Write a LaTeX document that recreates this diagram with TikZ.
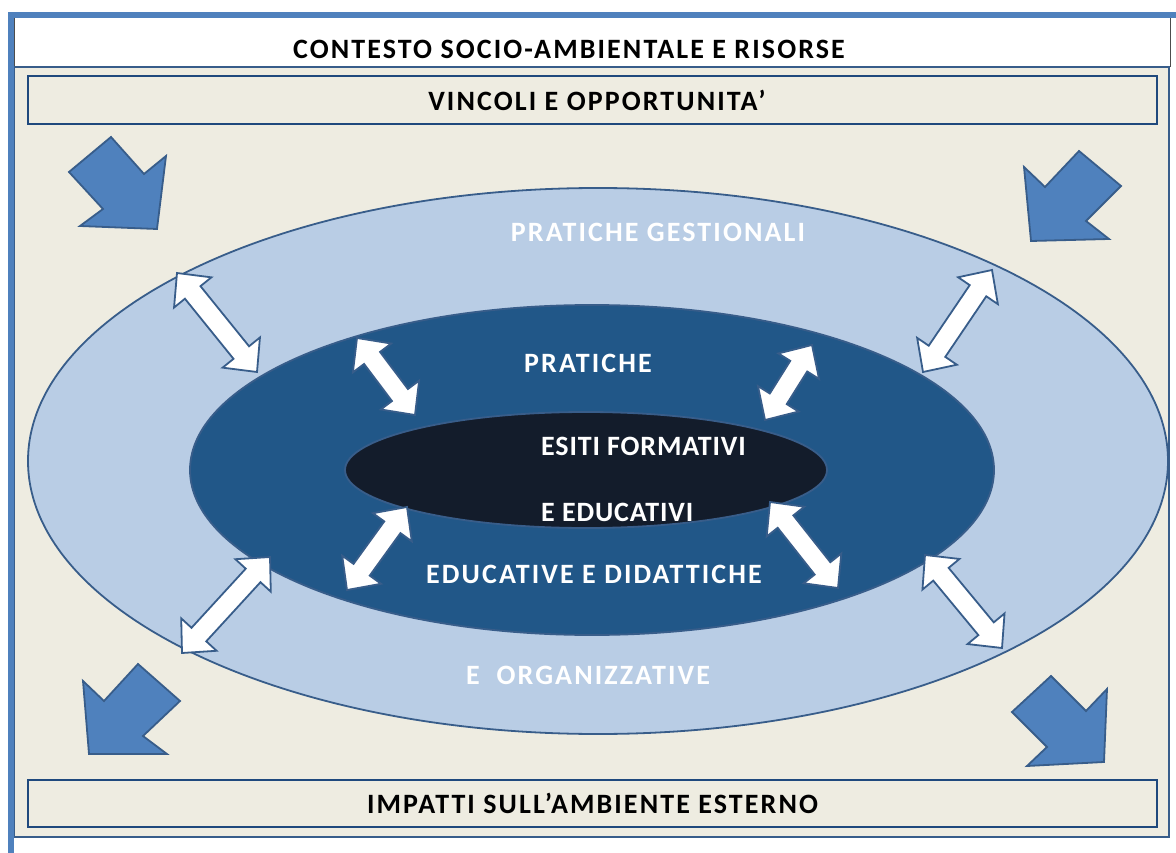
\documentclass[tikz,border=0pt]{standalone}
\usepackage{fontspec}
\setmainfont{Carlito}
\newfontfamily\widefont{Carlito}[LetterSpace=7.5]
\newfontfamily\semifont{Carlito}[LetterSpace=3]
\usetikzlibrary{calc}
\definecolor{frameblue}{HTML}{4F81BD}
\definecolor{darkline}{HTML}{385D8A}
\definecolor{navyline}{HTML}{1F497D}
\definecolor{beige}{HTML}{EEECE1}
\definecolor{lightell}{HTML}{B9CDE5}
\definecolor{midell}{HTML}{215788}
\definecolor{innerell}{HTML}{131C2B}
\newcommand\hl{25pt}
\newcommand\hw{24pt}
\newcommand\sw{10pt}
\newcommand\dblarrow[2]{%
  \draw[dblarr] (#1)
  -- ($($(#1)!\hl!(#2)$)!\hw!90:(#2)$)
  -- ($($(#1)!\hl!(#2)$)!\sw!90:(#2)$)
  -- ($($(#2)!\hl!(#1)$)!\sw!-90:(#1)$)
  -- ($($(#2)!\hl!(#1)$)!\hw!-90:(#1)$)
  -- (#2)
  -- ($($(#2)!\hl!(#1)$)!\hw!90:(#1)$)
  -- ($($(#2)!\hl!(#1)$)!\sw!90:(#1)$)
  -- ($($(#1)!\hl!(#2)$)!\sw!-90:(#2)$)
  -- ($($(#1)!\hl!(#2)$)!\hw!-90:(#2)$)
  -- cycle;}
\begin{document}
\begin{tikzpicture}[x=1pt,y=-1pt,
  lbl/.style={font=\widefont\bfseries\fontsize{28}{32}\selectfont, inner sep=0pt},
  whitelbl/.style={lbl, text=white},
  semilbl/.style={font=\semifont\bfseries\fontsize{28}{32}\selectfont, inner sep=0pt, text=white},
  bandbox/.style={draw=navyline, line width=2pt, fill=beige, minimum width=1129pt, inner sep=0pt, font=\widefont\bfseries\fontsize{28}{32}\selectfont},
  dblarr/.style={fill=white, draw=darkline, line width=1.8pt, line join=miter},
  bigarr/.style={fill=frameblue, draw=darkline, line width=1.8pt, line join=miter}]
\useasboundingbox (0,0) rectangle (1176,853);
\fill[white] (0,0) rectangle (1176,853);
% top white band
\draw[black!70, line width=1pt, fill=white] (14,18) rectangle (1170,67);
\node[lbl] (title) at (569,49) {CONTESTO SOCIO-AMBIENTALE E RISORSE};
% panel
\draw[darkline, line width=1.5pt, fill=beige] (14,67) rectangle (1169,837);
% outer frame
\draw[frameblue, line width=6pt] (11,853) -- (11,15) -- (1176,15);
% bands
\node[bandbox, minimum height=48pt] (vinc) at (592.5,100) {\hspace*{9pt}VINCOLI E OPPORTUNITA’};
\node[bandbox, minimum height=47pt] (imp) at (592.5,803.5) {IMPATTI SULL’AMBIENTE ESTERNO};
% corner arrows
\draw[bigarr] (111,137) -- (144,174) -- (166,156) -- (157,229) -- (80,226) -- (103,209) -- (69,172) -- cycle;
\draw[bigarr] (1079,151) -- (1121,186) -- (1086,221) -- (1109,239) -- (1031,241) -- (1024,167) -- (1045,187) -- cycle;
\draw[bigarr] (138,664) -- (180,701) -- (143,736) -- (167,754) -- (89,754) -- (83,681) -- (104,701) -- cycle;
\draw[bigarr] (1051,676) -- (1086,711) -- (1107,689) -- (1104,762) -- (1027,766) -- (1047,747) -- (1012,712) -- cycle;
% ellipses
\draw[darkline, line width=1.8pt, fill=lightell] (598,461) ellipse [x radius=570pt, y radius=273pt];
\draw[darkline, line width=1.8pt, fill=midell] (592,470) ellipse [x radius=402pt, y radius=165pt];
\draw[darkline, line width=1.8pt, fill=innerell] (586,470) ellipse [x radius=241pt, y radius=58pt];
% labels
\node[whitelbl] (pg) at (658,232) {PRATICHE GESTIONALI};
\node[whitelbl] (pr) at (588,363) {PRATICHE};
\node[semilbl, anchor=west] (esiti) at (541,446) {ESITI FORMATIVI};
\node[semilbl, anchor=west] (educ) at (541,512) {E EDUCATIVI};
\node[whitelbl] (edid) at (594,574) {EDUCATIVE E DIDATTICHE};
\node[whitelbl] (org) at (588,675) {E\ \ ORGANIZZATIVE};
% arrow end points
\coordinate (a1s) at (177,273); \coordinate (a1e) at (257,372);
\coordinate (a2s) at (992,270); \coordinate (a2e) at (923,372);
\coordinate (a3s) at (270,557); \coordinate (a3e) at (182,653);
\coordinate (a4s) at (925,555); \coordinate (a4e) at (1002,648);
\coordinate (b1s) at (357,338); \coordinate (b1e) at (415,415);
\coordinate (b2s) at (812,345); \coordinate (b2e) at (765,420);
\coordinate (b3s) at (407,507); \coordinate (b3e) at (347,590);
\coordinate (b4s) at (770,502); \coordinate (b4e) at (838,588);
\dblarrow{a1s}{a1e}
\dblarrow{a2s}{a2e}
\dblarrow{a3s}{a3e}
\dblarrow{a4s}{a4e}
\dblarrow{b1s}{b1e}
\dblarrow{b2s}{b2e}
\dblarrow{b3s}{b3e}
\dblarrow{b4s}{b4e}
\end{tikzpicture}
\end{document}
